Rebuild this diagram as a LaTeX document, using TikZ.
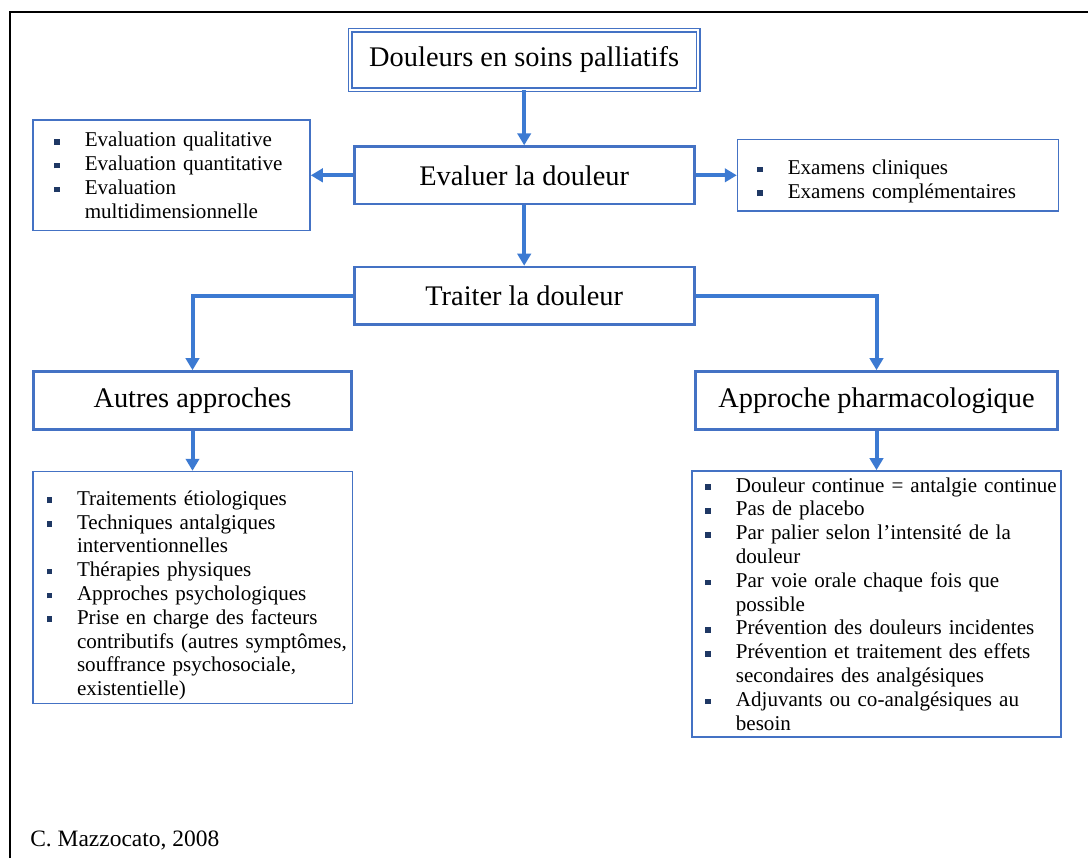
\documentclass[tikz,border=0pt]{standalone}
\usepackage{fontspec}
\setmainfont{Liberation Serif}
\usepackage{tikz}
\usetikzlibrary{arrows.meta}
\definecolor{boxblue}{RGB}{68,114,196}
\definecolor{arrblue}{RGB}{60,122,210}
\definecolor{navy}{RGB}{31,56,100}
\newlength{\bulind}
\newcommand{\itm}{\hspace*{\bulind}\makebox[22.9pt][l]{\textcolor{navy}{\rule[1.7pt]{4.2pt}{4.2pt}}}}
\newcommand{\cnt}{\hspace*{\bulind}\hspace*{22.9pt}}

\begin{document}
\begin{tikzpicture}[x=0.75pt,y=-0.75pt]
    \tikzset{
      box/.style={draw=boxblue, rectangle, line width=2pt, minimum width=255pt, minimum height=43pt, font=\fontsize{21.3}{25}\selectfont, node distance=90.3pt},
      tbox/.style={box, double=white, double distance=1.5pt, line width=1.1pt, minimum width=261pt, minimum height=44.3pt},
      lst/.style={draw=boxblue, rectangle, line width=1.1pt, align=left, inner xsep=0pt, inner ysep=0pt, font=\fontsize{15.8}{17.85}\selectfont},
      line/.style={draw=arrblue, line width=3pt, -{Triangle[width=10pt,length=9pt]}}
    }
    \useasboundingbox (0,0) rectangle (1088,858);
    \draw [line width=1.6pt] (10,858) |- (1088,12);

    \node [box] (eva) at (524.2,175.3) {Evaluer la douleur};
    \node [tbox, above of=eva, node distance=86.5pt] (tit) {Douleurs en soins palliatifs};
    \node [box, below of=eva] (tra) {Traiter la douleur};
    \node [lst, text width=207.75pt, minimum height=82.9pt, left of=eva, node distance=264.5pt,
           execute at begin node={\setlength{\bulind}{15.9pt}}] (lev)
      {\itm Evaluation qualitative\\
       \itm Evaluation quantitative\\
       \itm Evaluation\\
       \cnt multidimensionnelle};
    \node [lst, text width=240.6pt, minimum height=53.6pt, right of=eva, node distance=280.3pt,
           execute at begin node={\setlength{\bulind}{14.8pt}}] (rev)
      {\itm\rule{0pt}{20pt}Examens cliniques\\
       \itm Examens complémentaires};

    \node [box, minimum width=238.5pt, minimum height=43.5pt] (aut) at (192.5,400.5) {Autres approches};
    \node [box, minimum width=271.5pt, minimum height=43.5pt] (pha) at (876.5,400.5) {Approche pharmacologique};

    \node [lst, text width=239.6pt, minimum height=173.9pt, below of=aut, node distance=140.2pt,
           execute at begin node={\setlength{\bulind}{10.3pt}}] (lau)
      {\itm\rule{0pt}{23pt}Traitements étiologiques\\
       \itm Techniques antalgiques\\
       \cnt interventionnelles\\
       \itm Thérapies physiques\\
       \itm Approches psychologiques\\
       \itm Prise en charge des facteurs\\
       \cnt contributifs (autres symptômes,\\
       \cnt souffrance psychosociale,\\
       \cnt existentielle)};
    \node [lst, text width=276.9pt, minimum height=199.6pt, below of=pha, node distance=152.6pt,
           execute at begin node={\setlength{\bulind}{10.1pt}}] (lph)
      {\itm Douleur continue = antalgie continue\\
       \itm Pas de placebo\\
       \itm Par palier selon l’intensité de la\\
       \cnt douleur\\
       \itm Par voie orale chaque fois que\\
       \cnt possible\\
       \itm Prévention des douleurs incidentes\\
       \itm Prévention et traitement des effets\\
       \cnt secondaires des analgésiques\\
       \itm Adjuvants ou co-analgésiques au\\
       \cnt besoin};

    \node [anchor=base west, inner sep=0pt, font=\fontsize{17.6}{20}\selectfont] (src) at (30,846) {C. Mazzocato, 2008};

    \path [line] (tit) -- (eva);
    \path [line] (eva) -- (lev);
    \path [line] (eva) -- (rev);
    \path [line] (eva) -- (tra);
    \path [line] (tra.west) -| (aut);
    \path [line] (tra.east) -| (pha);
    \path [line] (aut) -- (lau);
    \path [line] (pha) -- (lph);
\end{tikzpicture}
\end{document}
